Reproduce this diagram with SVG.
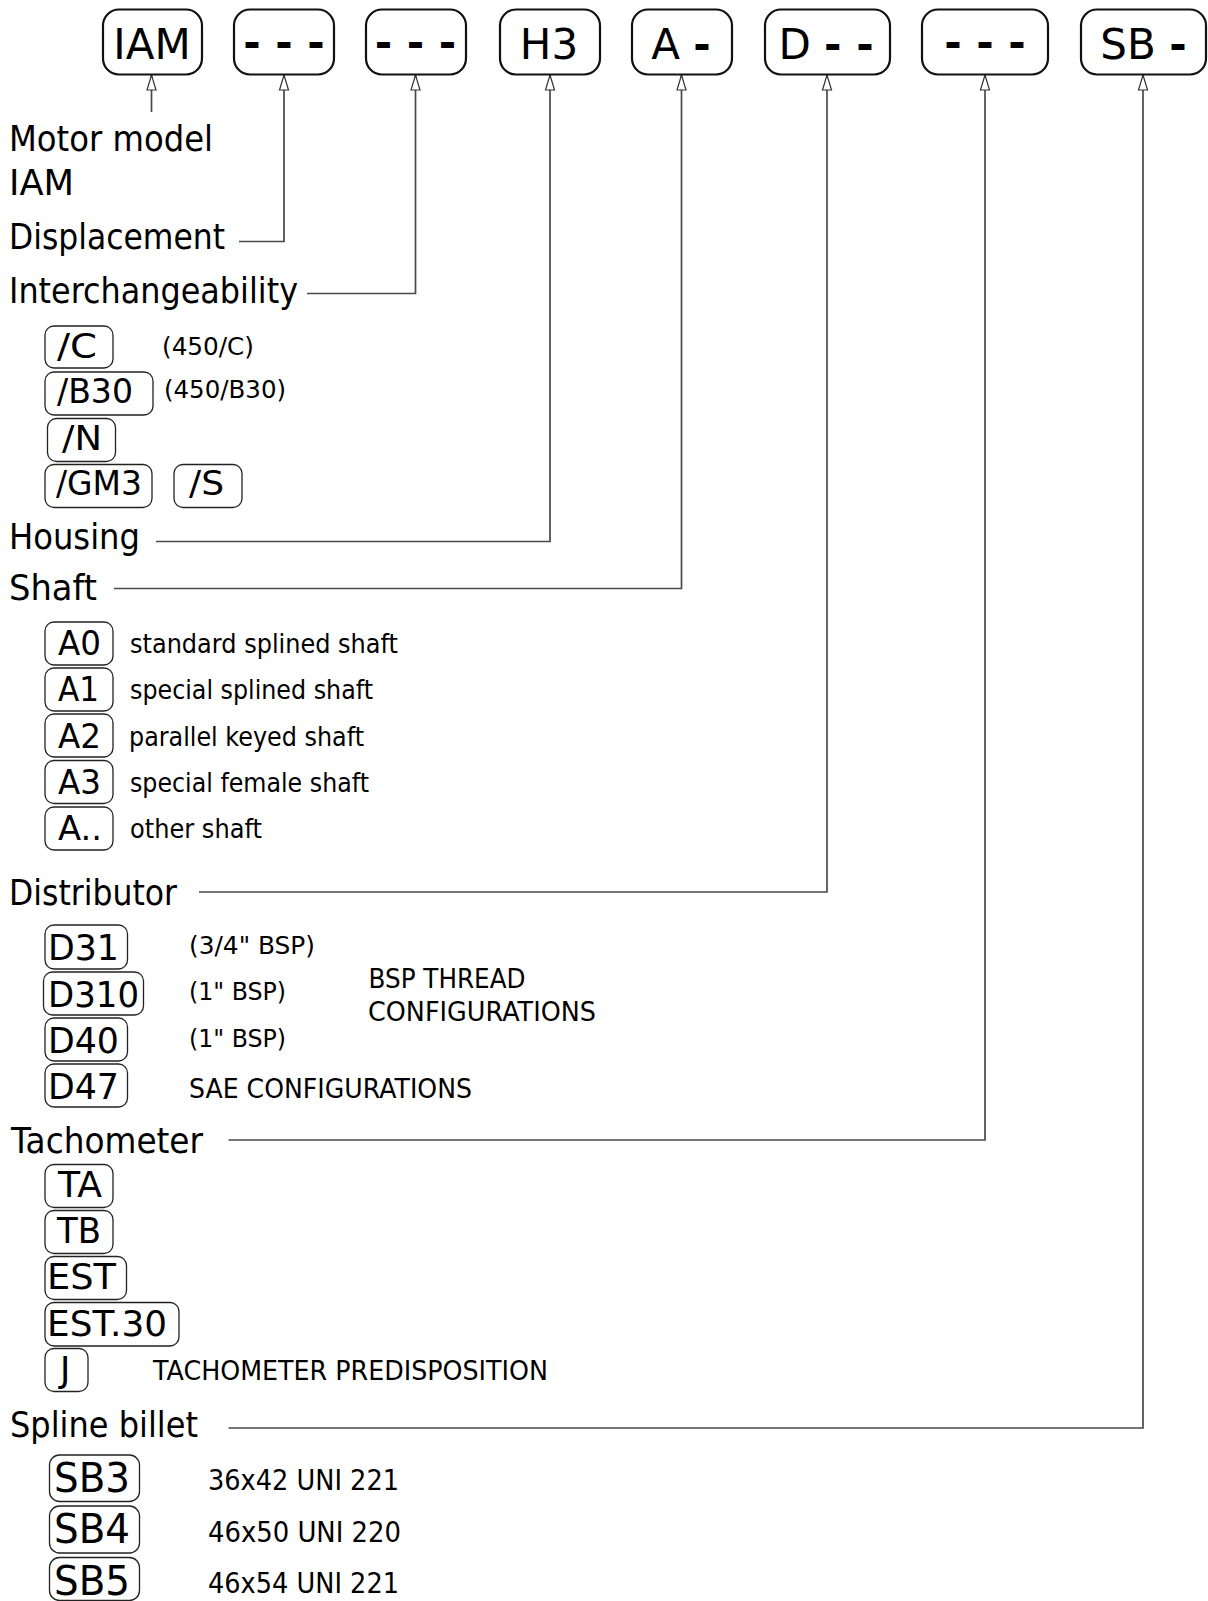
<svg xmlns="http://www.w3.org/2000/svg" width="1208" height="1601" viewBox="0 0 1208 1601">
<defs>
<style>
text{font-family:"DejaVu Sans","Verdana","Liberation Sans",sans-serif;fill:#000}
.big{font-size:42px}
.dash{font-weight:bold}
.title{font-size:36px}
.c32{font-size:32px}
.c33{font-size:33px}
.c35{font-size:35px}
.c40{font-size:40px}
.d24{font-size:24px}
.d25{font-size:25px}
.d26{font-size:26px}
.d27{font-size:27px}
.d28{font-size:28px}
.box{fill:#fff;stroke:#111;stroke-width:2.2}
.sbox{fill:none;stroke:#222;stroke-width:1.3}
.conn{fill:none;stroke:#4a4a4a;stroke-width:1.7}
</style>
<marker id="arr" markerUnits="userSpaceOnUse" markerWidth="18" markerHeight="12" viewBox="0 0 18 12" refX="16.5" refY="6" orient="auto">
<path d="M1.5,1.5 L16.5,6 L1.5,10.5 Z" fill="#fff" stroke="#333" stroke-width="1.2"/>
</marker>
</defs>
<rect width="1208" height="1601" fill="#fff"/>

<g id="connectors">
<path class="conn" d="M151.5,112 V75" marker-end="url(#arr)"/>
<path class="conn" d="M239,241.5 H284 V75" marker-end="url(#arr)"/>
<path class="conn" d="M307,293.5 H415.5 V75" marker-end="url(#arr)"/>
<path class="conn" d="M156,541.5 H550 V75" marker-end="url(#arr)"/>
<path class="conn" d="M114,588.5 H681.5 V75" marker-end="url(#arr)"/>
<path class="conn" d="M199,892 H827 V75" marker-end="url(#arr)"/>
<path class="conn" d="M228.5,1140 H985 V75" marker-end="url(#arr)"/>
<path class="conn" d="M228.5,1428 H1143 V75" marker-end="url(#arr)"/>
</g>

<g id="code-IAM"><rect class="box" x="103" y="9.5" width="99" height="65" rx="16"/><text class="big" x="152" y="59" text-anchor="middle">IAM</text></g>
<g id="code-displacement"><rect class="box" x="234" y="9.5" width="100" height="65" rx="16"/><text class="big dash" x="284" y="57" text-anchor="middle">- - -</text></g>
<g id="code-interchangeability"><rect class="box" x="366" y="9.5" width="100" height="65" rx="16"/><text class="big dash" x="415.5" y="57" text-anchor="middle">- - -</text></g>
<g id="code-housing"><rect class="box" x="500" y="9.5" width="100" height="65" rx="16"/><text class="big" x="549" y="59" text-anchor="middle">H3</text></g>
<g id="code-shaft"><rect class="box" x="632" y="9.5" width="100" height="65" rx="16"/><text class="big" x="681" y="59" text-anchor="middle">A <tspan class="dash">-</tspan></text></g>
<g id="code-distributor"><rect class="box" x="765" y="9.5" width="125" height="65" rx="16"/><text class="big" x="826" y="59" text-anchor="middle">D <tspan class="dash">- -</tspan></text></g>
<g id="code-tachometer"><rect class="box" x="922" y="9.5" width="126" height="65" rx="16"/><text class="big dash" x="985" y="57" text-anchor="middle">- - -</text></g>
<g id="code-spline"><rect class="box" x="1081" y="9.5" width="125" height="65" rx="16"/><text class="big" x="1143.5" y="59" text-anchor="middle">SB <tspan class="dash">-</tspan></text></g>

<g id="label-motor">
<text class="title" x="9" y="151" textLength="204" lengthAdjust="spacingAndGlyphs">Motor model</text>
<text class="title" x="9" y="195" textLength="65" lengthAdjust="spacingAndGlyphs">IAM</text>
</g>
<g id="label-displacement"><text class="title" x="9" y="249" textLength="216" lengthAdjust="spacingAndGlyphs">Displacement</text></g>
<g id="label-interchangeability"><text class="title" x="9" y="303" textLength="289" lengthAdjust="spacingAndGlyphs">Interchangeability</text></g>

<g id="opt-C"><rect class="sbox" x="45" y="326" width="68" height="42" rx="9"/><text class="c33" x="57" y="358" textLength="40" lengthAdjust="spacingAndGlyphs">/C</text><text class="d24" x="162" y="355" textLength="92" lengthAdjust="spacingAndGlyphs">(450/C)</text></g>
<g id="opt-B30"><rect class="sbox" x="45" y="372" width="108" height="43" rx="9"/><text class="c33" x="57" y="403" textLength="76" lengthAdjust="spacingAndGlyphs">/B30</text><text class="d24" x="164" y="398" textLength="122" lengthAdjust="spacingAndGlyphs">(450/B30)</text></g>
<g id="opt-N"><rect class="sbox" x="47.5" y="418.5" width="68" height="43" rx="9"/><text class="c33" x="62" y="450" textLength="40" lengthAdjust="spacingAndGlyphs">/N</text></g>
<g id="opt-GM3"><rect class="sbox" x="45" y="464.5" width="107" height="43" rx="9"/><text class="c33" x="56" y="495" textLength="86" lengthAdjust="spacingAndGlyphs">/GM3</text></g>
<g id="opt-S"><rect class="sbox" x="174" y="464.5" width="68" height="43" rx="9"/><text class="c33" x="189" y="495" textLength="35" lengthAdjust="spacingAndGlyphs">/S</text></g>

<g id="label-housing"><text class="title" x="9" y="549" textLength="131" lengthAdjust="spacingAndGlyphs">Housing</text></g>
<g id="label-shaft"><text class="title" x="9" y="600" textLength="88" lengthAdjust="spacingAndGlyphs">Shaft</text></g>

<g id="opt-A0"><rect class="sbox" x="45" y="622" width="68" height="43" rx="9"/><text class="c33" x="58" y="655" textLength="43" lengthAdjust="spacingAndGlyphs">A0</text><text class="d26" x="130" y="652.5" textLength="268" lengthAdjust="spacingAndGlyphs">standard splined shaft</text></g>
<g id="opt-A1"><rect class="sbox" x="45" y="668" width="68" height="43" rx="9"/><text class="c33" x="58" y="701" textLength="41" lengthAdjust="spacingAndGlyphs">A1</text><text class="d26" x="130" y="699" textLength="243" lengthAdjust="spacingAndGlyphs">special splined shaft</text></g>
<g id="opt-A2"><rect class="sbox" x="45" y="714" width="68" height="43" rx="9"/><text class="c33" x="58" y="747.5" textLength="43" lengthAdjust="spacingAndGlyphs">A2</text><text class="d26" x="129" y="745.5" textLength="235" lengthAdjust="spacingAndGlyphs">parallel keyed shaft</text></g>
<g id="opt-A3"><rect class="sbox" x="45" y="760.5" width="68" height="43" rx="9"/><text class="c33" x="58" y="794" textLength="43" lengthAdjust="spacingAndGlyphs">A3</text><text class="d26" x="130" y="792" textLength="239" lengthAdjust="spacingAndGlyphs">special female shaft</text></g>
<g id="opt-Adots"><rect class="sbox" x="45" y="807" width="68" height="43" rx="9"/><text class="c33" x="58" y="840" textLength="44" lengthAdjust="spacingAndGlyphs">A..</text><text class="d26" x="130" y="838" textLength="132" lengthAdjust="spacingAndGlyphs">other shaft</text></g>

<g id="label-distributor"><text class="title" x="9" y="905" textLength="168" lengthAdjust="spacingAndGlyphs">Distributor</text></g>

<g id="opt-D31"><rect class="sbox" x="45" y="925" width="82.5" height="44" rx="9"/><text class="c35" x="48" y="960" textLength="71" lengthAdjust="spacingAndGlyphs">D31</text><text class="d25" x="189" y="954" textLength="126" lengthAdjust="spacingAndGlyphs">(3/4" BSP)</text></g>
<g id="opt-D310"><rect class="sbox" x="43.5" y="972" width="100" height="43" rx="9"/><text class="c35" x="48" y="1006.5" textLength="91" lengthAdjust="spacingAndGlyphs">D310</text><text class="d25" x="189" y="1000" textLength="97" lengthAdjust="spacingAndGlyphs">(1" BSP)</text></g>
<g id="opt-D40"><rect class="sbox" x="45" y="1018" width="82.5" height="43" rx="9"/><text class="c35" x="48" y="1052.5" textLength="71" lengthAdjust="spacingAndGlyphs">D40</text><text class="d25" x="189" y="1046.5" textLength="97" lengthAdjust="spacingAndGlyphs">(1" BSP)</text></g>
<g id="opt-D47"><rect class="sbox" x="45" y="1064" width="82.5" height="43" rx="9"/><text class="c35" x="48" y="1099" textLength="71" lengthAdjust="spacingAndGlyphs">D47</text><text class="d27" x="189" y="1098" textLength="283" lengthAdjust="spacingAndGlyphs">SAE CONFIGURATIONS</text></g>
<g id="note-bsp">
<text class="d27" x="368.5" y="988" textLength="157" lengthAdjust="spacingAndGlyphs">BSP THREAD</text>
<text class="d27" x="368" y="1021" textLength="228" lengthAdjust="spacingAndGlyphs">CONFIGURATIONS</text>
</g>

<g id="label-tachometer"><text class="title" x="11" y="1153" textLength="192" lengthAdjust="spacingAndGlyphs">Tachometer</text></g>

<g id="opt-TA"><rect class="sbox" x="45" y="1164.5" width="68" height="43" rx="9"/><text class="c35" x="58" y="1197" textLength="44" lengthAdjust="spacingAndGlyphs">TA</text></g>
<g id="opt-TB"><rect class="sbox" x="45" y="1210.5" width="68" height="43" rx="9"/><text class="c35" x="57" y="1243" textLength="44" lengthAdjust="spacingAndGlyphs">TB</text></g>
<g id="opt-EST"><rect class="sbox" x="45" y="1256.5" width="81.5" height="43" rx="9"/><text class="c35" x="47" y="1289" textLength="69" lengthAdjust="spacingAndGlyphs">EST</text></g>
<g id="opt-EST30"><rect class="sbox" x="45" y="1302.5" width="134" height="43.5" rx="9"/><text class="c35" x="47" y="1335.5" textLength="120" lengthAdjust="spacingAndGlyphs">EST.30</text></g>
<g id="opt-J"><rect class="sbox" x="45" y="1348.5" width="43" height="43" rx="9"/><text class="c35" x="60" y="1381.5">J</text><text class="d27" x="153" y="1380" textLength="395" lengthAdjust="spacingAndGlyphs">TACHOMETER PREDISPOSITION</text></g>

<g id="label-spline"><text class="title" x="10" y="1437" textLength="188" lengthAdjust="spacingAndGlyphs">Spline billet</text></g>

<g id="opt-SB3"><rect class="sbox" x="49.5" y="1455" width="90" height="46.5" rx="10"/><text class="c40" x="54" y="1491.5" textLength="76" lengthAdjust="spacingAndGlyphs">SB3</text><text class="d28" x="208" y="1490" textLength="191" lengthAdjust="spacingAndGlyphs">36x42 UNI 221</text></g>
<g id="opt-SB4"><rect class="sbox" x="49.5" y="1506" width="90" height="47" rx="10"/><text class="c40" x="54" y="1543" textLength="76" lengthAdjust="spacingAndGlyphs">SB4</text><text class="d28" x="208" y="1541.5" textLength="193" lengthAdjust="spacingAndGlyphs">46x50 UNI 220</text></g>
<g id="opt-SB5"><rect class="sbox" x="49.5" y="1557.5" width="90" height="43" rx="10"/><text class="c40" x="54" y="1594.5" textLength="76" lengthAdjust="spacingAndGlyphs">SB5</text><text class="d28" x="208" y="1593" textLength="191" lengthAdjust="spacingAndGlyphs">46x54 UNI 221</text></g>
</svg>
